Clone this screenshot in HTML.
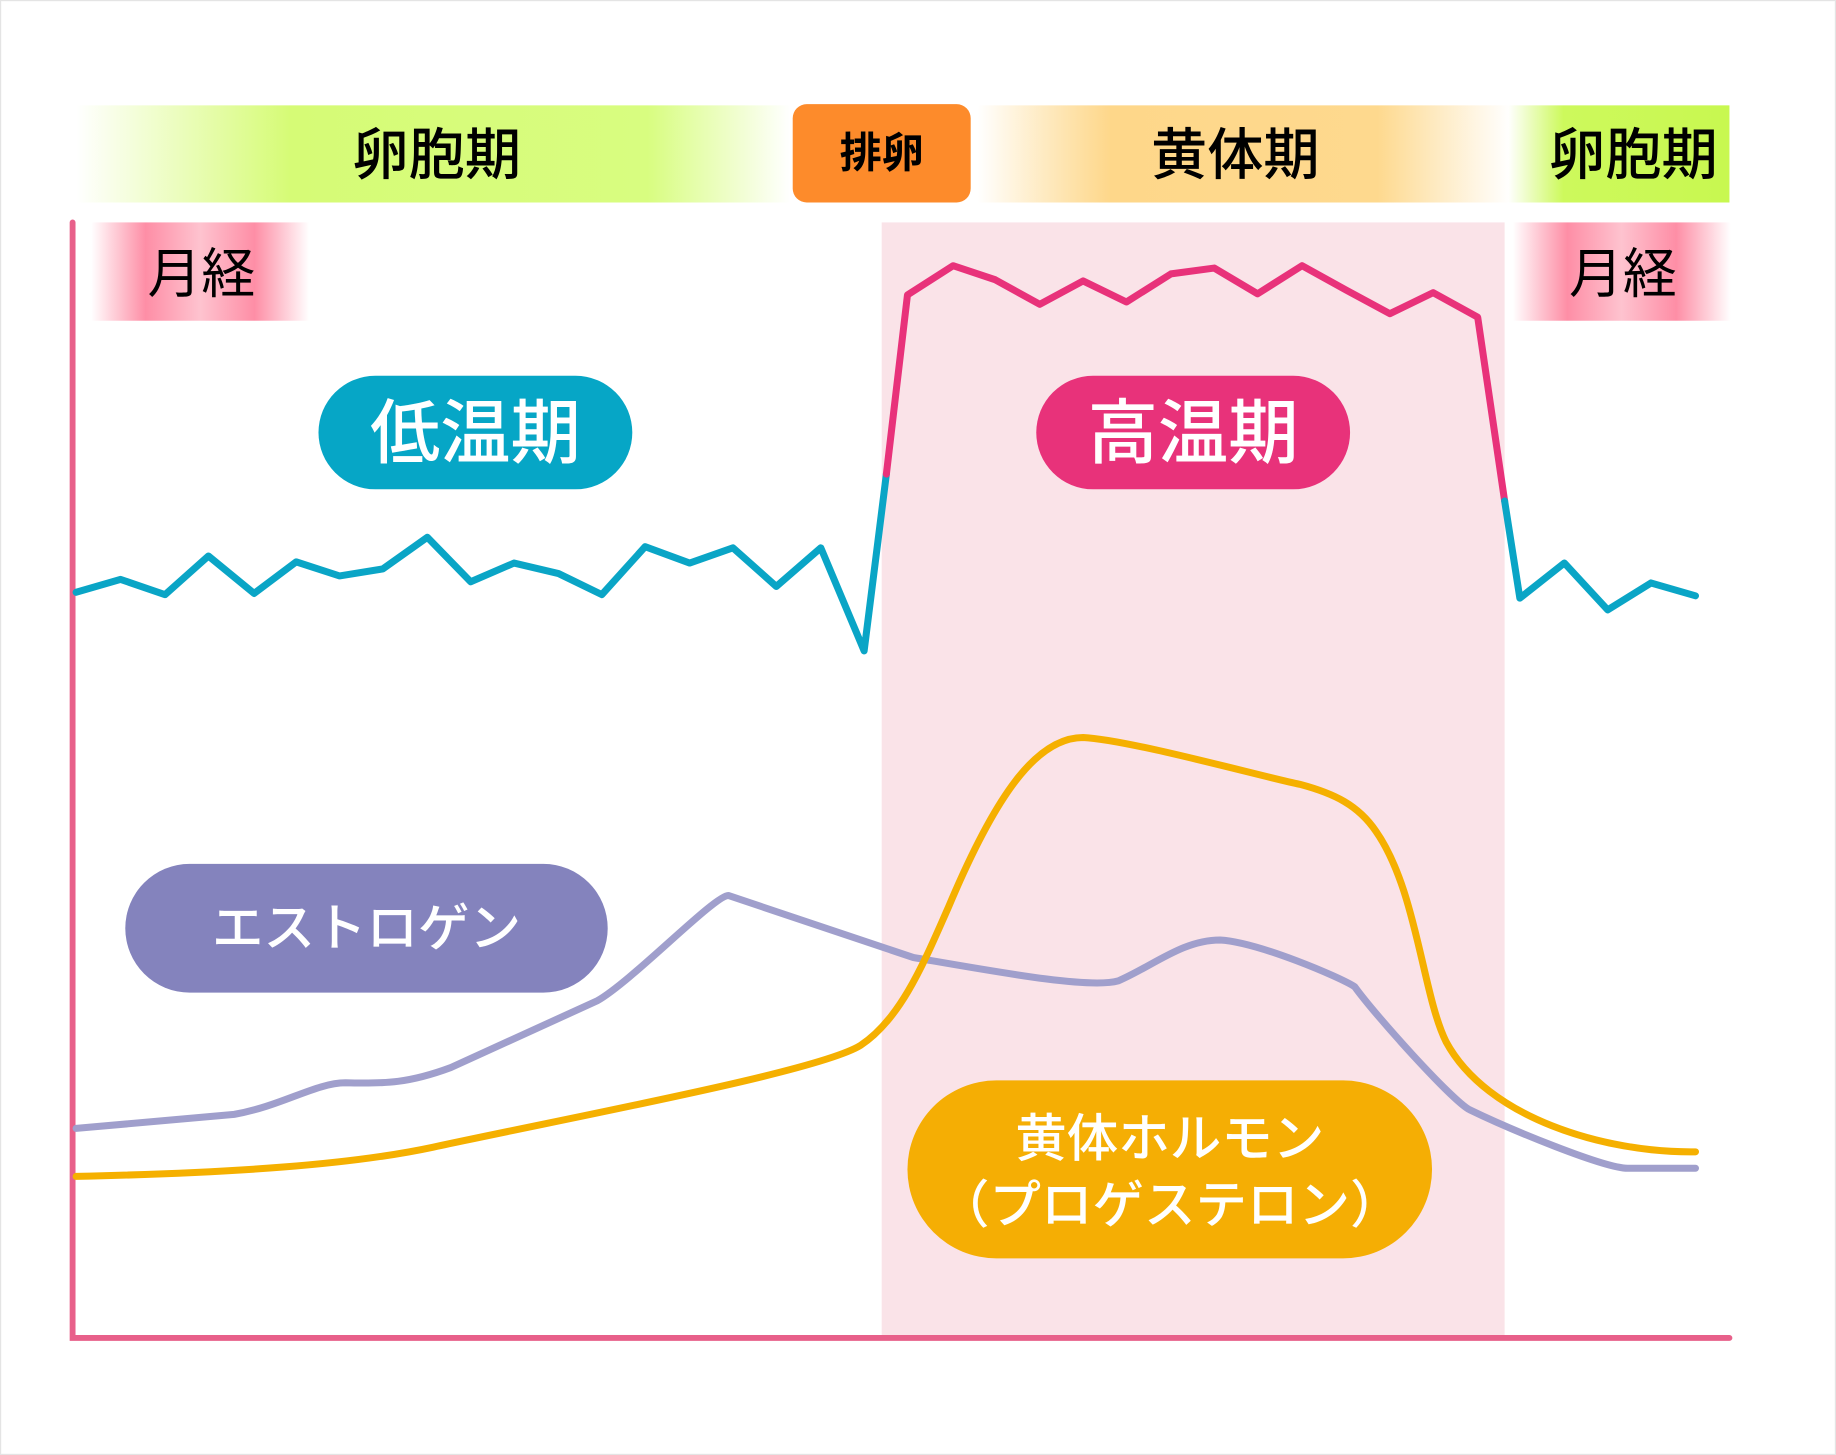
<!DOCTYPE html>
<html><head><meta charset="utf-8"><style>
html,body{margin:0;padding:0;background:#fff;}
svg{display:block;}
text{font-family:"Liberation Sans","Noto Sans CJK JP",sans-serif;}
</style></head><body>
<svg width="1836" height="1455" viewBox="0 0 1568 1243" preserveAspectRatio="none" xmlns="http://www.w3.org/2000/svg">
<defs>
<linearGradient id="g1" x1="65" x2="675" gradientUnits="userSpaceOnUse">
<stop offset="0" stop-color="#d6fb76" stop-opacity="0"/><stop offset="0.3" stop-color="#d6fb76"/><stop offset="0.8" stop-color="#d8fd80"/><stop offset="1" stop-color="#d8fd80" stop-opacity="0"/></linearGradient>
<linearGradient id="g2" x1="835" x2="1290" gradientUnits="userSpaceOnUse">
<stop offset="0" stop-color="#fed47e" stop-opacity="0"/><stop offset="0.25" stop-color="#fed78a"/><stop offset="0.75" stop-color="#fed98e"/><stop offset="1" stop-color="#fedb95" stop-opacity="0"/></linearGradient>
<linearGradient id="g3" x1="1288" x2="1477" gradientUnits="userSpaceOnUse">
<stop offset="0" stop-color="#cdf95c" stop-opacity="0"/><stop offset="0.25" stop-color="#cdf95c"/><stop offset="1" stop-color="#c8f850"/></linearGradient>
<linearGradient id="p1" x1="0" x2="1" >
<stop offset="0" stop-color="#fe8aa2" stop-opacity="0"/><stop offset="0.25" stop-color="#fe8ea6"/><stop offset="0.5" stop-color="#fec3cf"/><stop offset="0.75" stop-color="#fe8ea6"/><stop offset="1" stop-color="#fe8aa2" stop-opacity="0"/></linearGradient>
</defs>
<rect x="0.5" y="0.5" width="1567" height="1242" fill="#fff" stroke="#e4e4e4"/>
<rect x="753" y="190" width="532" height="953" fill="#fae3e8"/>
<rect x="65" y="90" width="610" height="83" fill="url(#g1)"/>
<rect x="835" y="90" width="455" height="83" fill="url(#g2)"/>
<rect x="1288" y="90" width="189" height="83" fill="url(#g3)"/>
<rect x="677" y="89" width="152" height="84" rx="12" fill="#fd8b2b"/>
<text x="753" y="143" font-size="36" font-weight="bold" text-anchor="middle">排卵</text>
<text x="373" y="149" font-size="48" font-weight="500" text-anchor="middle">卵胞期</text>
<text x="1055" y="149" font-size="48" font-weight="500" text-anchor="middle">黄体期</text>
<text x="1395" y="149" font-size="48" font-weight="500" text-anchor="middle">卵胞期</text>
<rect x="78" y="190" width="186" height="84" fill="url(#p1)"/>
<rect x="1292" y="190" width="186" height="84" fill="url(#p1)"/>
<text x="172" y="250" font-size="46" text-anchor="middle">月経</text>
<text x="1386" y="250" font-size="46" text-anchor="middle">月経</text>
<path d="M62,190 L62,1143 L1477,1143" fill="none" stroke="#e8608a" stroke-width="5" stroke-linecap="round"/>
<rect x="272" y="321" width="268" height="97" rx="48.5" fill="#06a6c6"/>
<text x="406" y="391" font-size="60" font-weight="500" fill="#fff" text-anchor="middle">低温期</text>
<rect x="885" y="321" width="268" height="97" rx="48.5" fill="#e8327a"/>
<text x="1019" y="391" font-size="60" font-weight="500" fill="#fff" text-anchor="middle">高温期</text>
<g fill="none" stroke-width="6" stroke-linejoin="round" stroke-linecap="round">
<polyline stroke="#0aa5c6" points="65,506 103,495 141,508 178,475 217,507 253,480 290,492 327,486 365,459 402,497 439,481 477,490 514,508 551,467 589,481 626,468 663,501 701,468 738,556 757,405"/>
<polyline stroke="#e8327a" points="757,405 775,252 814,227 850,239 888,260 925,240 962,258 1000,234 1037,229 1074,251 1112,227 1150,248 1187,268 1224,250 1262,271 1285,428"/>
<polyline stroke="#0aa5c6" points="1285,428 1298,511 1336,481 1373,521 1410,498 1448,509"/>
<path stroke="#a09fcc" d="M65,964 L200,952 C240,945 270,925 295,925 C330,926 350,925 385,912 L510,855 C540,838 610,765 622,765 L780,818 C850,830 930,845 955,838 C985,825 1010,803 1042,803 C1075,805 1145,835 1157,843 C1175,868 1240,940 1255,948 C1290,965 1370,998 1390,998 L1448,998"/>
<path stroke="#f5b000" d="M65,1005 C200,1002 300,995 370,980 C500,952 700,915 735,893 C770,870 790,820 810,775 C850,680 885,630 925,630 C965,632 1080,664 1110,670 C1140,678 1160,688 1175,710 C1210,760 1215,850 1235,890 C1270,955 1370,985 1448,984"/>
</g>
<rect x="107" y="738" width="412" height="110" rx="55" fill="#8483bd"/>
<text x="313" y="808" font-size="44" font-weight="500" fill="#fff" text-anchor="middle">エストロゲン</text>
<rect x="775" y="923" width="448" height="152" rx="76" fill="#f5ae04"/>
<text x="999" y="988" font-size="44" font-weight="500" fill="#fff" text-anchor="middle">黄体ホルモン</text>
<text x="999" y="1045" font-size="44" font-weight="500" fill="#fff" text-anchor="middle">（プロゲステロン）</text>
</svg>
</body></html>
